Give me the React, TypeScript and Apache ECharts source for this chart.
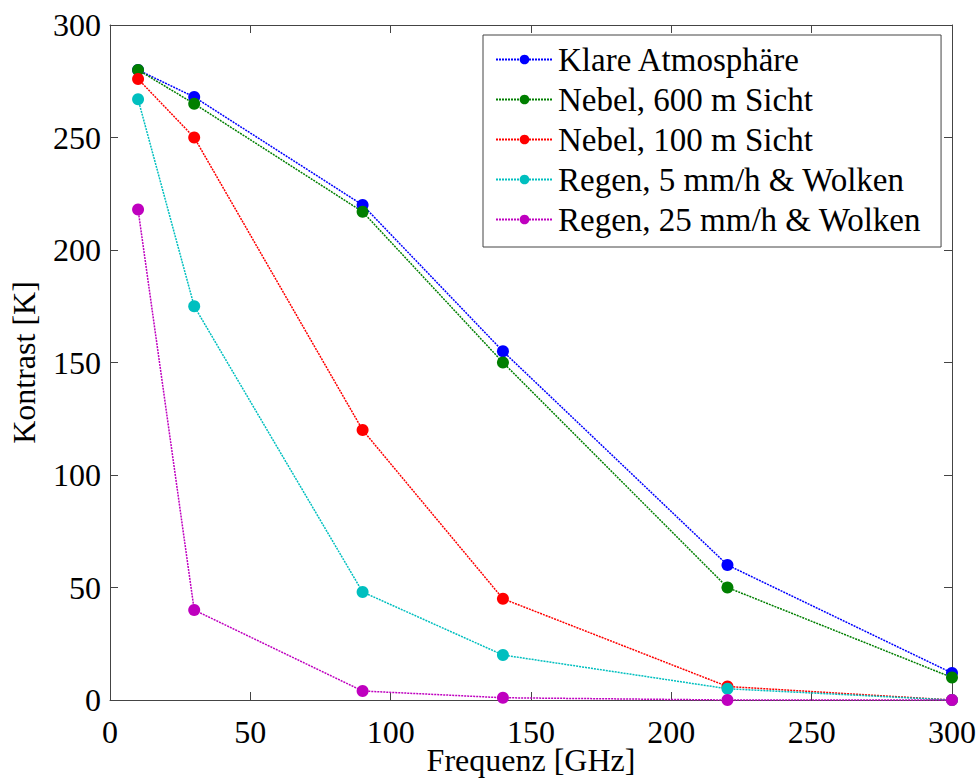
import React, { useEffect, useRef } from "react";
import * as echarts from "echarts";

const frequencies = [10, 30, 90, 140, 220, 300];
const klare = [280, 268, 220, 155, 60, 12];
const nebel600 = [280, 265, 217, 150, 50, 10];
const nebel100 = [276, 250, 120, 45, 6, 0];
const regen5 = [267, 175, 48, 20, 5, 0];
const regen25 = [218, 40, 4, 1, 0, 0];

const seriesNames = [
  "Klare Atmosphäre",
  "Nebel, 600 m Sicht",
  "Nebel, 100 m Sicht",
  "Regen, 5 mm/h & Wolken",
  "Regen, 25 mm/h & Wolken",
];
const seriesValues = [klare, nebel600, nebel100, regen5, regen25];
const seriesColors = ["#0000ff", "#007f00", "#ff0000", "#00bfbf", "#bf00bf"];

const FONT = "'Liberation Serif', 'Times New Roman', serif";

export default function App() {
  const ref = useRef<HTMLDivElement>(null);
  useEffect(() => {
    if (!ref.current) return;
    const chart = echarts.init(ref.current, undefined, { renderer: "svg" });
    const axisLineStyle = { color: "#444", width: 1 };
    chart.setOption({
      animation: false,
      backgroundColor: "#fff",
      grid: {
        left: 110,
        top: 25,
        right: 25,
        bottom: 81,
        containLabel: false,
        outerBoundsMode: "none",
      },
      legend: {
        left: 483,
        top: 35,
        orient: "vertical",
        data: seriesNames,
        backgroundColor: "#fff",
        borderColor: "#444",
        borderWidth: 1,
        padding: [8, 20, 11, 12],
        itemWidth: 57,
        itemHeight: 12,
        itemGap: 7,
        textStyle: { fontFamily: FONT, fontSize: 33, color: "#000", lineHeight: 33 },
      },
      xAxis: [
        {
          type: "value",
          min: 0,
          max: 300,
          interval: 50,
          name: "Frequenz [GHz]",
          nameLocation: "middle",
          nameGap: 45,
          nameMoveOverlap: false,
          nameTextStyle: { fontFamily: FONT, fontSize: 32, color: "#000", lineHeight: 30 },
          axisLine: { onZero: false, lineStyle: axisLineStyle },
          axisTick: { inside: true, length: 8, lineStyle: axisLineStyle },
          axisLabel: { fontFamily: FONT, fontSize: 32, color: "#000", margin: 19, lineHeight: 26 },
          splitLine: { show: false },
        },
        {
          type: "value",
          position: "top",
          min: 0,
          max: 300,
          interval: 50,
          axisLine: { onZero: false, lineStyle: axisLineStyle },
          axisTick: { inside: true, length: 8, lineStyle: axisLineStyle },
          axisLabel: { show: false },
          splitLine: { show: false },
        },
      ],
      yAxis: [
        {
          type: "value",
          min: 0,
          max: 300,
          interval: 50,
          name: "Kontrast [K]",
          nameLocation: "middle",
          nameGap: 70,
          nameRotate: 90,
          nameMoveOverlap: false,
          nameTextStyle: { fontFamily: FONT, fontSize: 32, color: "#000" },
          axisLine: { show: true, onZero: false, lineStyle: axisLineStyle },
          axisTick: { show: true, inside: true, length: 8, lineStyle: axisLineStyle },
          axisLabel: { fontFamily: FONT, fontSize: 32, color: "#000", margin: 9 },
          splitLine: { show: false },
        },
        {
          type: "value",
          position: "right",
          min: 0,
          max: 300,
          interval: 50,
          axisLine: { show: true, onZero: false, lineStyle: axisLineStyle },
          axisTick: { show: true, inside: true, length: 8, lineStyle: axisLineStyle },
          axisLabel: { show: false },
          splitLine: { show: false },
        },
      ],
      series: seriesNames.map((name, i) => ({
        name,
        type: "line",
        xAxisIndex: 0,
        yAxisIndex: 0,
        data: frequencies.map((f, j) => [f, seriesValues[i][j]]),
        symbol: "circle",
        symbolSize: 12,
        showSymbol: true,
        clip: false,
        color: seriesColors[i],
        itemStyle: { color: seriesColors[i] },
        lineStyle: { color: seriesColors[i], width: 1.5, type: [2, 1] },
      })),
    });
    return () => chart.dispose();
  }, []);
  return (
    <div
      ref={ref}
      style={{ position: "absolute", left: 0, top: 0, width: 977, height: 781 }}
    />
  );
}
